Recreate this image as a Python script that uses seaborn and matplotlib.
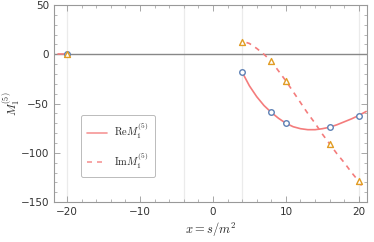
import numpy as np
import pandas as pd
import matplotlib
matplotlib.use('Agg')
import matplotlib.pyplot as plt
import seaborn as sns

sns.set_style('ticks')
plt.rcParams['font.family'] = ['DejaVu Sans']
plt.rcParams['mathtext.fontset'] = 'cm'

# sample points
pts_x = [-20, 4, 8, 10, 16, 20]
re_pts = [0, -18, -59, -70, -74, -63]
im_pts = [0, 13, -7, -27, -91, -129]

# curves
re_x = [-21.3, -20, 4, 5, 6, 7, 8, 9, 10, 11, 12, 13, 14, 15, 16, 17, 18, 19, 20, 21]
re_y = [0, 0, -18, -32, -43, -52, -59, -65, -70, -73.5, -75.5, -76.5, -76.5, -75.5, -74, -71.5, -68.5, -65.5, -62, -58]
im_x = [4.6, 5, 6, 7, 8, 9, 10, 11, 12, 13, 14, 15, 16, 17, 18, 19, 20, 20.7]
im_y = [12, 11, 6, 0, -7, -17, -27, -38, -49, -60, -70, -81, -91, -101, -110, -120, -129, -137]

red = '#F47C7C'
blue = '#5E81B5'
orange = '#E19C24'

fig = plt.figure(figsize=(3.74, 2.42), dpi=100)
ax = fig.add_axes([0.144, 0.165, 0.837, 0.814])

for xv in [-20, -4, 4, 20]:
    ax.axvline(xv, color='#ebebeb', lw=0.9, zorder=0)
ax.axhline(0, color='#888888', lw=1.0, zorder=1)

re_left = pd.DataFrame({'x': re_x[:2], 'y': re_y[:2]})
re_right = pd.DataFrame({'x': re_x[2:], 'y': re_y[2:]})
sns.lineplot(data=re_left, x='x', y='y', ax=ax, color=red, lw=1.2, sort=False)
sns.lineplot(data=re_right, x='x', y='y', ax=ax, color=red, lw=1.2, sort=False,
             label=r'$\mathrm{Re}M_1^{(5)}$')
sns.lineplot(x=im_x, y=im_y, ax=ax, color=red, lw=1.2, sort=False,
             linestyle=(0, (3, 3)), label=r'$\mathrm{Im}M_1^{(5)}$')

sns.scatterplot(x=pts_x, y=re_pts, ax=ax, marker='o', s=16, facecolor='white',
                edgecolor=blue, linewidth=1.0, zorder=5)
sns.scatterplot(x=pts_x, y=im_pts, ax=ax, marker='^', s=18, facecolor='white',
                edgecolor=orange, linewidth=1.0, zorder=6)

ax.set_xlim(-21.8, 21.1)
ax.set_ylim(-150, 50)
ax.set_xticks([-20, -10, 0, 10, 20])
ax.set_yticks([-150, -100, -50, 0, 50])
ax.set_xticks(np.arange(-20, 22, 2), minor=True)
ax.set_yticks(np.arange(-150, 51, 10), minor=True)
ax.tick_params(which='both', direction='in', top=True, right=True,
               color='#999999', labelsize=7.5, labelcolor='#333333')
ax.tick_params(which='major', length=4, width=0.6)
ax.tick_params(which='minor', length=2, width=0.5)
ax.tick_params(axis='both', which='major', labelright=False, labeltop=False)
for sp in ax.spines.values():
    sp.set_color('#999999')
    sp.set_linewidth(0.8)

ax.set_xlabel(r'$x = s/m^2$', fontsize=9, labelpad=3)
ax.set_ylabel(r'$M_1^{(5)}$', fontsize=8.5)
ax.yaxis.set_label_coords(-0.1, 0.5)

leg = ax.legend(loc='upper left', bbox_to_anchor=(0.086, 0.442), fontsize=7.5,
                frameon=True, fancybox=True, handlelength=1.9, labelspacing=0.9,
                borderpad=0.6, handletextpad=0.7, borderaxespad=0)
leg.get_frame().set_edgecolor('#aaaaaa')
leg.get_frame().set_linewidth(0.7)
for h in leg.get_lines():
    h.set_alpha(0.8)

fig.savefig('out.png', dpi=100)
